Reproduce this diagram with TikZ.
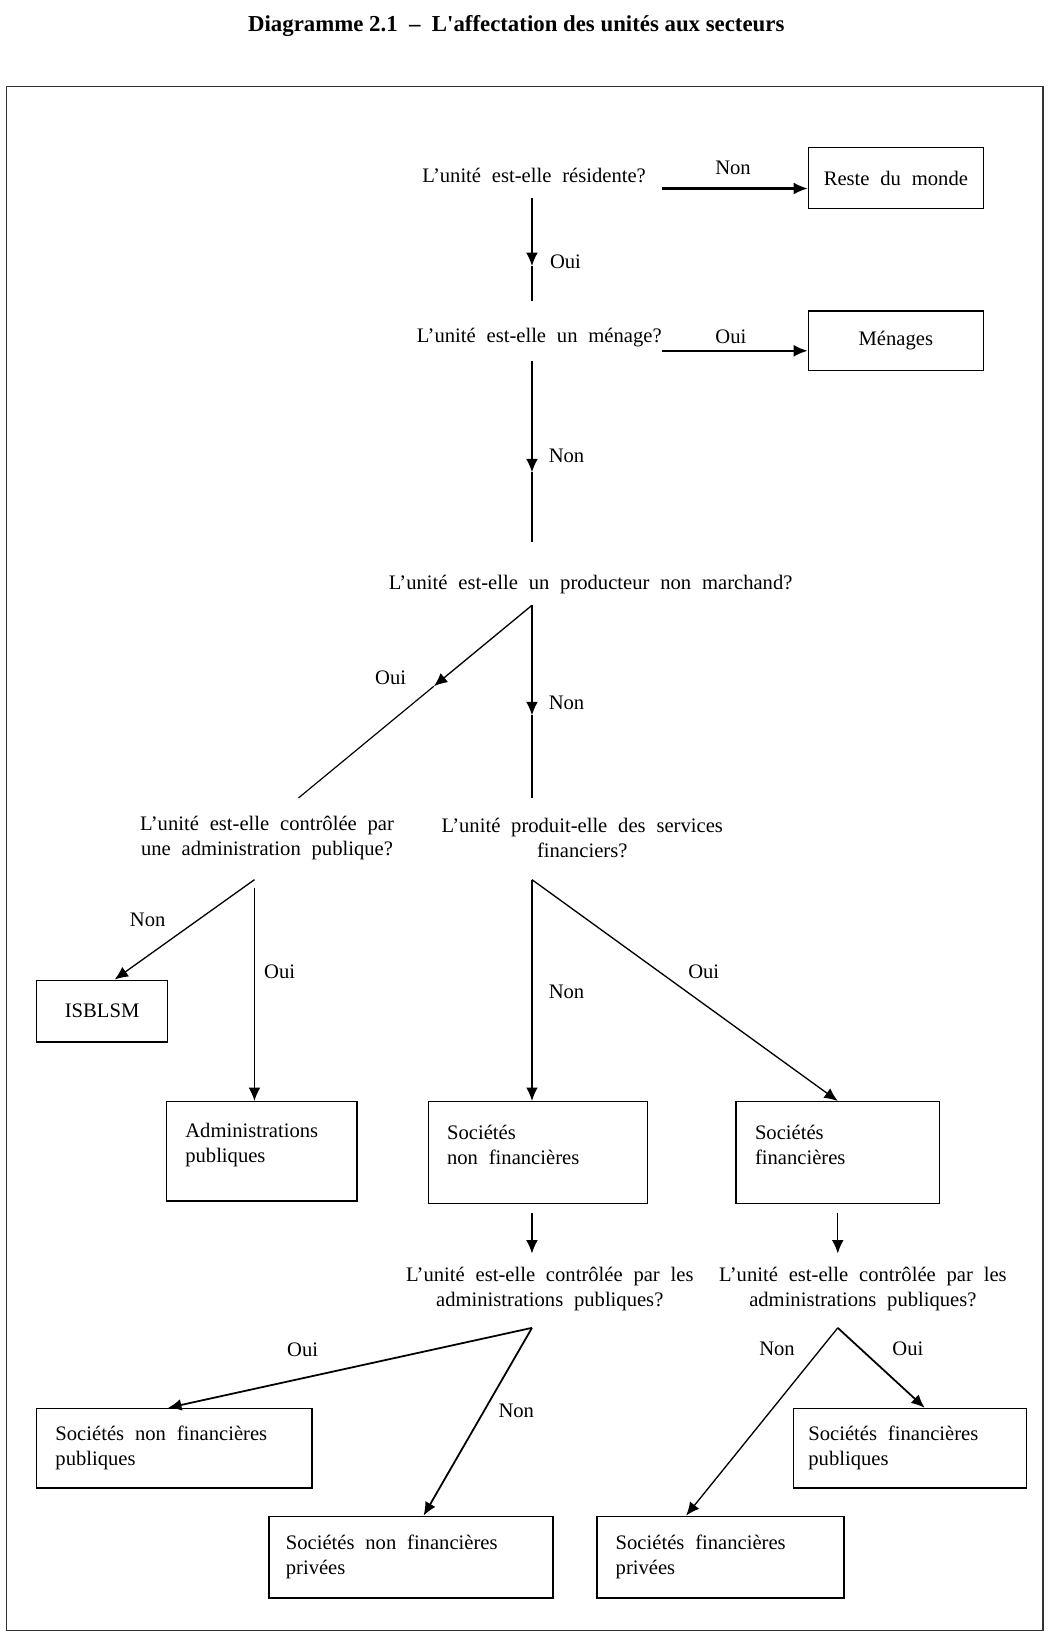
\documentclass[tikz,border=0pt]{standalone}
\usepackage{fontspec}
\setmainfont{Liberation Serif}[WordSpace=2.1]
\newfontfamily\titlefont{Liberation Serif}
\usetikzlibrary{arrows.meta,calc}

\begin{document}
\begin{tikzpicture}[
  x=0.025cm, y=-0.025cm,
  every node/.style={font=\fontsize{14}{17}\selectfont},
  question/.style={align=center, inner sep=0pt},
  answer/.style={inner sep=0pt},
  box/.style={draw, line width=0.9pt, inner sep=0pt, align=center},
  lbox/.style={draw, line width=0.9pt, inner xsep=0.45cm, inner ysep=0pt, align=flush left},
  tallbox/.style={lbox, execute at end node={\rule[-11pt]{0pt}{11pt}}},
  link/.style={line width=0.9pt, -{Latex[length=3.2mm,width=2.8mm]}},
  thinlink/.style={line width=0.8pt, -{Latex[length=3.2mm,width=2.8mm]}},
  side/.style={line width=1.5pt, -{Latex[length=3.4mm,width=2.9mm]}},
  plain/.style={line width=0.8pt}
]
\useasboundingbox (0,0) rectangle (1002,1568);
\draw[line width=0.7pt, black!80] (6,83) rectangle (996,1557);
\node[font=\titlefont\fontsize{15.5}{18}\selectfont\bfseries] (title) at (493,25)
  {Diagramme 2.1 \ \textendash\ \ L\textquotesingle affectation des unités aux secteurs};

% questions
\node[question] (res) at (510,168) {L'unité est-elle résidente?};
\node[question] (men) at (515,322) {L'unité est-elle un ménage?};
\node[question] (prod) at (564,558) {L'unité est-elle un producteur non marchand?};
\node[question] (ctrl) at (255,800) {L'unité est-elle contrôlée par\\une administration publique?};
\node[question] (fin) at (556,800) {L'unité produit-elle des services\\financiers?};
\node[question] (snfq) at (525,1231) {L'unité est-elle contrôlée par les\\administrations publiques?};
\node[question] (sfq) at (824,1231) {L'unité est-elle contrôlée par les\\administrations publiques?};

% secteurs
\node[box, minimum width=4.175cm, minimum height=1.45cm] (rdm) at (855.5,170) {Reste du monde};
\node[box, minimum width=4.175cm, minimum height=1.425cm] (mng) at (855.5,325.5) {Ménages};
\node[box, minimum width=3.125cm, minimum height=1.475cm] (isblsm) at (97.5,965.5) {ISBLSM};
\node[tallbox, text width=3.65cm, minimum height=2.375cm] (apu) at (250,1099.5) {Administrations\\publiques};
\node[tallbox, text width=4.325cm, minimum height=2.425cm] (snf) at (513.5,1100.5) {Sociétés\\non financières};
\node[tallbox, text width=3.95cm, minimum height=2.425cm] (sf) at (800,1100.5) {Sociétés\\financières};
\node[lbox, text width=5.675cm, minimum height=1.9cm] (snfpub) at (166.5,1383) {Sociétés non financières\\publiques};
\node[lbox, text width=5.975cm, inner xsep=0.4cm, minimum height=1.95cm] (snfpriv) at (392.5,1487) {Sociétés non financières\\privées};
\node[lbox, text width=4.85cm, inner xsep=0.35cm, minimum height=1.9cm] (sfpub) at (869,1383) {Sociétés financières\\publiques};
\node[lbox, text width=5.0cm, minimum height=1.95cm] (sfpriv) at (688,1487) {Sociétés financières\\privées};

% points de depart
\coordinate (res-e) at (632,180);
\coordinate (res-s) at (508,189);
\coordinate (res-m) at (508,254);
\coordinate (res-b) at (508,287);
\coordinate (men-e) at (632,335);
\coordinate (men-s) at (508,345);
\coordinate (men-m) at (508,451);
\coordinate (men-b) at (508,518);
\coordinate (prod-s) at (508,578);
\coordinate (prod-m) at (508,683);
\coordinate (prod-b) at (508,762);
\coordinate (ctrl-t) at (285,762);
\coordinate (ctrl-s) at (243,840);
\coordinate (ctrl-v) at (243,848);
\coordinate (fin-s) at (508,840);
\coordinate (snf-s) at (508,1158);
\coordinate (snfq-t) at (508,1197);
\coordinate (sf-s) at (800,1158);
\coordinate (sfq-t) at (800,1197);
\coordinate (snfq-s) at (508,1268);
\coordinate (sfq-s) at (800,1268);

% connecteurs
\draw[side] (res-e) -- (res-e -| rdm.west);
\draw[side] (men-e) -- (men-e -| mng.west);
\draw[thinlink] (res-s) -- (res-m);
\draw[plain] (res-m) -- (res-b);
\draw[thinlink] (men-s) -- (men-m);
\draw[plain] (men-m) -- (men-b);
\draw[link] (prod-s) -- ($(prod-s)!0.42!(ctrl-t)$);
\draw[plain] ($(prod-s)!0.42!(ctrl-t)$) -- (ctrl-t);
\draw[thinlink] (prod-s) -- (prod-m);
\draw[plain] (prod-m) -- (prod-b);
\draw[link] (ctrl-s) -- ([xshift=0.3cm]isblsm.north);
\draw[thinlink] (ctrl-v) -- (ctrl-v |- apu.north);
\draw[link, line width=1.2pt] (fin-s) -- (fin-s |- snf.north);
\draw[link] (fin-s) -- (sf.north);
\draw[link] (snf-s) -- (snfq-t);
\draw[link] (sf-s) -- (sfq-t);
\draw[link, line width=1.2pt] (snfq-s) -- ([xshift=-0.15cm]snfpub.north);
\draw[link, line width=1.2pt] (snfq-s) -- ([xshift=0.3cm]snfpriv.north);
\draw[link, line width=1.2pt] (sfq-s) -- ([xshift=0.35cm]sfpub.north);
\draw[link] (sfq-s) -- ([xshift=-0.82cm]sfpriv.north);

% reponses
\node[answer] at (700,160) {Non};
\node[answer] at (540,250) {Oui};
\node[answer] at (698,322) {Oui};
\node[answer] at (541,435) {Non};
\node[answer] at (373,647) {Oui};
\node[answer] at (541,671) {Non};
\node[answer] at (141,878) {Non};
\node[answer] at (267,928) {Oui};
\node[answer] at (541,947) {Non};
\node[answer] at (672,928) {Oui};
\node[answer] at (289,1289) {Oui};
\node[answer] at (493,1347) {Non};
\node[answer] at (742,1288) {Non};
\node[answer] at (867,1288) {Oui};
\end{tikzpicture}
\end{document}
